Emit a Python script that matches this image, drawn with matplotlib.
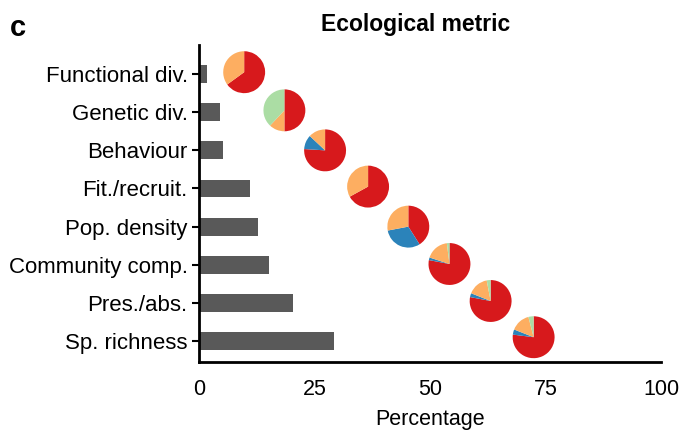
import numpy as np
import matplotlib.pyplot as plt

plt.rcParams['font.family'] = ['Liberation Sans', 'DejaVu Sans']

# metrics, top to bottom
metrics = ['Functional div.', 'Genetic div.', 'Behaviour', 'Fit./recruit.',
           'Pop. density', 'Community comp.', 'Pres./abs.', 'Sp. richness']
percentage = [1.7, 4.6, 5.2, 11.0, 12.8, 15.2, 20.4, 29.3]

# pie shares per metric: red, blue, orange, green (clockwise from 12 o'clock)
pie_red = [65, 50, 76, 67, 41, 78, 78, 77]
pie_blue = [0, 0, 11, 0, 31, 2, 3, 4]
pie_orange = [35, 12, 13, 33, 28, 18, 16, 15]
pie_green = [0, 38, 0, 0, 0, 2, 3, 4]
pie_x = [9.8, 18.5, 27.3, 36.6, 45.3, 54.2, 63.1, 72.4]

pie_colors = ['#d7191c', '#2b83ba', '#fdae61', '#abdda4']

fig = plt.figure(figsize=(6.81, 4.38), dpi=100)
ax = fig.add_axes([0.292, 0.1735, 0.679, 0.7235])

y = np.arange(len(metrics))
ax.barh(y, percentage, height=0.47, color='#595959')

ymin, ymax = 7.55, -0.76
ax.set_xlim(0, 100)
ax.set_ylim(ymin, ymax)
ax.set_yticks(y)
ax.set_yticklabels(metrics, fontsize=16)
ax.set_xticks([0, 25, 50, 75, 100])
ax.set_xticklabels(['0', '25', '50', '75', '100'], fontsize=15.5)
ax.tick_params(axis='x', length=0, pad=12)
ax.tick_params(axis='y', length=5, width=1.5, pad=3)
ax.set_xlabel('Percentage', fontsize=15.5, labelpad=7)

for s in ['top', 'right']:
    ax.spines[s].set_visible(False)
for s in ['left', 'bottom']:
    ax.spines[s].set_linewidth(2)

# pies drawn in small inset axes (axes-fraction coords)
ax_w_px = 0.679 * 681
ax_h_px = 0.7235 * 438
pie_w = 44 / ax_w_px
pie_h = 44 / ax_h_px
pie_y = [-0.05, -0.05, 0.0, -0.05, 0.0, -0.02, -0.05, -0.1]
for i in range(len(metrics)):
    cy = i + pie_y[i]
    fx = pie_x[i] / 100
    fy = (ymin - cy) / (ymin - ymax)
    iax = ax.inset_axes([fx - pie_w / 2, fy - pie_h / 2, pie_w, pie_h],
                        transform=ax.transAxes)
    vals = [pie_red[i], pie_blue[i], pie_orange[i], pie_green[i]]
    iax.pie(vals, colors=pie_colors, startangle=90, counterclock=False,
            radius=1.0)
    iax.set_xlim(-1.05, 1.05)
    iax.set_ylim(-1.05, 1.05)
    iax.set_aspect('equal')
    iax.axis('off')

fig.text(0.61, 0.945, 'Ecological metric', fontsize=16.5, fontweight='bold',
         ha='center', va='center')
fig.text(0.014, 0.935, 'c', fontsize=21, fontweight='bold', ha='left', va='center')

fig.savefig('out.png', dpi=100)
